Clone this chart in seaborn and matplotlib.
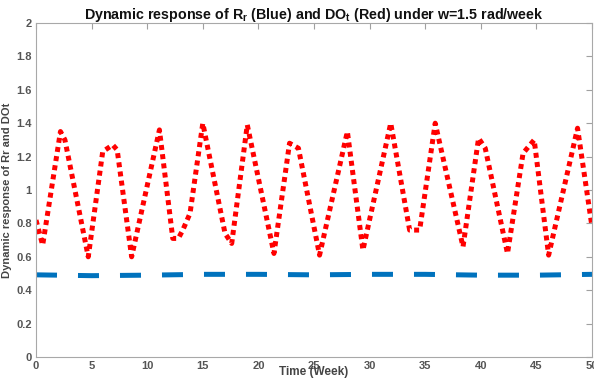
import matplotlib
matplotlib.use("Agg")
import matplotlib.pyplot as plt
import pandas as pd
import seaborn as sns

# red curve (DO_t)
do_t_week = [0.0, 0.6, 2.2, 2.6, 4.7, 6.0, 6.9, 7.3, 8.6, 11.1, 12.3, 12.8, 13.2,
             13.85, 15.0, 15.3, 17.0, 17.6, 19.0, 21.4, 22.8, 23.6, 25.5, 28.0,
             29.4, 31.9, 33.6, 34.5, 35.9, 38.4, 39.8, 40.4, 42.4, 43.8, 44.8,
             46.1, 48.7, 50.0]
do_t_val = [0.82, 0.67, 1.35, 1.30, 0.60, 1.23, 1.27, 1.24, 0.60, 1.36, 0.71, 0.71,
            0.76, 0.86, 1.40, 1.30, 0.74, 0.68, 1.39, 0.62, 1.28, 1.25, 0.61, 1.35,
            0.64, 1.40, 0.76, 0.76, 1.40, 0.66, 1.31, 1.25, 0.62, 1.22, 1.30,
            0.61, 1.37, 0.78]

# blue curve (R_r)
r_r_week = [0, 5, 10, 15, 20, 25, 30, 35, 40, 45, 50]
r_r_val = [0.492, 0.487, 0.49, 0.495, 0.495, 0.492, 0.495, 0.495, 0.49, 0.49, 0.495]

x_ticks = [0, 5, 10, 15, 20, 25, 30, 35, 40, 45, 50]
y_ticks = [0, 0.2, 0.4, 0.6, 0.8, 1, 1.2, 1.4, 1.6, 1.8, 2]
y_tick_labels = ["0", "0.2", "0.4", "0.6", "0.8", "1", "1.2", "1.4", "1.6", "1.8", "2"]

red_df = pd.DataFrame({"week": do_t_week, "value": do_t_val})
blue_df = pd.DataFrame({"week": r_r_week, "value": r_r_val})

sns.set_style("white")
plt.rcParams["font.family"] = ["Liberation Sans", "DejaVu Sans"]
plt.rcParams["mathtext.fontset"] = "custom"
plt.rcParams["mathtext.rm"] = "Liberation Sans"
plt.rcParams["mathtext.bf"] = "Liberation Sans:bold"
plt.rcParams["mathtext.default"] = "bf"

fig = plt.figure(figsize=(5.94, 3.87), dpi=100)
ax = fig.add_axes([36 / 594, 1 - 357 / 387, 556 / 594, 334 / 387])

sns.lineplot(data=blue_df, x="week", y="value", ax=ax, color="#0072BD",
             linewidth=3.6, linestyle=(0, (4.2, 4.2)), sort=False,
             estimator=None, errorbar=None)
sns.lineplot(data=red_df, x="week", y="value", ax=ax, color="#FF0000",
             linewidth=3.6, linestyle=(0, (1, 0.85)), sort=False,
             estimator=None, errorbar=None)

ax.set_xlim(0, 50)
ax.set_ylim(0, 2)
ax.set_xticks(x_ticks)
ax.set_yticks(y_ticks)
ax.set_yticklabels(y_tick_labels)

ax.tick_params(direction="in", length=4, width=0.8, colors="#a0a0a0",
               labelcolor="#555555", labelsize=8, top=True, right=True, pad=3)
for lab in ax.get_xticklabels() + ax.get_yticklabels():
    lab.set_fontweight("bold")
for side in ["left", "bottom", "top", "right"]:
    ax.spines[side].set_color("#a8a8a8")
    ax.spines[side].set_linewidth(0.8)

ax.set_title("Dynamic response of R$_r$ (Blue) and DO$_t$ (Red) under w=1.5 rad/week",
             fontsize=10.3, fontweight="bold", color="#111111", pad=3)
ax.set_xlabel("Time (Week)", fontsize=8.5, fontweight="bold", color="#444444",
              labelpad=-4)
ax.set_ylabel("Dynamic response of Rr and DOt", fontsize=8, fontweight="bold",
              color="#444444", labelpad=3)

fig.savefig("out.png", dpi=100)
